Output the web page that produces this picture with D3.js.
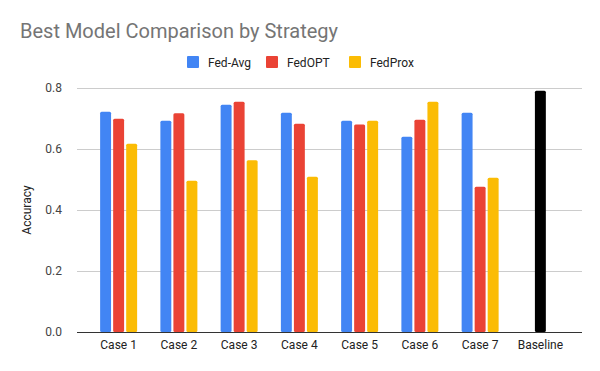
<!DOCTYPE html>
<html>
<head>
<meta charset="utf-8">
<script src="https://cdn.jsdelivr.net/npm/d3@7"></script>
<style>
  body { margin: 0; background: #fff; }
  text { font-family: Roboto, Arial, sans-serif; }
</style>
</head>
<body>
<div id="chart"></div>
<script>
var width = 600;
var height = 371;

// data
var categories = ["Case 1", "Case 2", "Case 3", "Case 4", "Case 5", "Case 6", "Case 7"];
var seriesNames = ["Fed-Avg", "FedOPT", "FedProx"];
var seriesColors = ["#4285f4", "#ea4335", "#fbbc04"];
var fedAvg  = [0.722, 0.693, 0.745, 0.719, 0.693, 0.640, 0.719];
var fedOpt  = [0.699, 0.717, 0.755, 0.683, 0.680, 0.696, 0.476];
var fedProx = [0.617, 0.496, 0.563, 0.509, 0.693, 0.755, 0.506];
var baselineLabel = "Baseline";
var baselineValue = 0.791;
var yTicks = [0, 0.2, 0.4, 0.6, 0.8];

var seriesValues = [fedAvg, fedOpt, fedProx];

var margin = {top: 88, right: 18, bottom: 39, left: 77};

var svg = d3.select("#chart").append("svg")
    .attr("width", width)
    .attr("height", height);

// title
svg.append("text")
    .attr("x", 20)
    .attr("y", 38)
    .attr("fill", "#757575")
    .style("font-size", "20px")
    .text("Best Model Comparison by Strategy");

var x = d3.scaleBand()
    .domain(categories.concat([baselineLabel]))
    .range([margin.left + 11.5, width - margin.right - 11.5]);

var y = d3.scaleLinear()
    .domain([0, 0.8])
    .range([height - margin.bottom, margin.top]);

// inner band for the 3 bars of a group
var groupW = 37;
var xs = d3.scaleBand()
    .domain(seriesNames)
    .range([0, groupW])
    .paddingInner(0.16);

// gridlines
svg.append("g")
    .selectAll("line")
    .data(yTicks.filter(function(d) { return d > 0; }))
  .enter().append("line")
    .attr("x1", margin.left)
    .attr("x2", width - margin.right)
    .attr("y1", function(d) { return Math.round(y(d)) + 0.5; })
    .attr("y2", function(d) { return Math.round(y(d)) + 0.5; })
    .attr("stroke", "#cccccc");

// y tick labels
svg.append("g")
    .selectAll("text")
    .data(yTicks)
  .enter().append("text")
    .attr("x", margin.left - 15)
    .attr("y", function(d) { return y(d) + 4; })
    .attr("text-anchor", "end")
    .attr("fill", "#444")
    .style("font-size", "12px")
    .text(function(d) { return d3.format(".1f")(d); });

// y axis title
svg.append("text")
    .attr("transform", "translate(31," + ((margin.top + height - margin.bottom) / 2) + ") rotate(-90)")
    .attr("text-anchor", "middle")
    .attr("fill", "#222")
    .style("font-size", "12px")
    .text("Accuracy");

// bars for each case
var groups = svg.append("g")
    .selectAll("g")
    .data(categories)
  .enter().append("g")
    .attr("transform", function(d) {
      return "translate(" + (x(d) + x.bandwidth() / 2 - groupW / 2) + ",0)";
    });

groups.selectAll("rect")
    .data(function(d, i) {
      return seriesNames.map(function(s, j) {
        return {series: s, value: seriesValues[j][i], color: seriesColors[j]};
      });
    })
  .enter().append("rect")
    .attr("x", function(d) { return xs(d.series); })
    .attr("y", function(d) { return y(d.value); })
    .attr("width", xs.bandwidth())
    .attr("height", function(d) { return y(0) - y(d.value); })
    .attr("rx", 1.5)
    .attr("fill", function(d) { return d.color; });

// baseline bar
svg.append("rect")
    .attr("x", x(baselineLabel) + x.bandwidth() / 2 - xs.bandwidth() / 2)
    .attr("y", y(baselineValue))
    .attr("width", xs.bandwidth())
    .attr("height", y(0) - y(baselineValue))
    .attr("rx", 1.5)
    .attr("fill", "#000");

// x axis line
svg.append("line")
    .attr("x1", margin.left)
    .attr("x2", width - margin.right)
    .attr("y1", Math.round(y(0)) + 0.5)
    .attr("y2", Math.round(y(0)) + 0.5)
    .attr("stroke", "#333");

// x labels
svg.append("g")
    .selectAll("text")
    .data(x.domain())
  .enter().append("text")
    .attr("x", function(d) { return x(d) + x.bandwidth() / 2; })
    .attr("y", height - margin.bottom + 17)
    .attr("text-anchor", "middle")
    .attr("fill", "#222")
    .style("font-size", "12px")
    .text(function(d) { return d; });

// legend
var legendX = [187, 266, 349];
var legend = svg.append("g")
    .selectAll("g")
    .data(seriesNames)
  .enter().append("g")
    .attr("transform", function(d, i) { return "translate(" + legendX[i] + ",56)"; });

legend.append("rect")
    .attr("width", 12)
    .attr("height", 12)
    .attr("rx", 1)
    .attr("fill", function(d, i) { return seriesColors[i]; });

legend.append("text")
    .attr("x", 21)
    .attr("y", 10.5)
    .attr("fill", "#222")
    .style("font-size", "12px")
    .text(function(d) { return d; });
</script>
</body>
</html>
